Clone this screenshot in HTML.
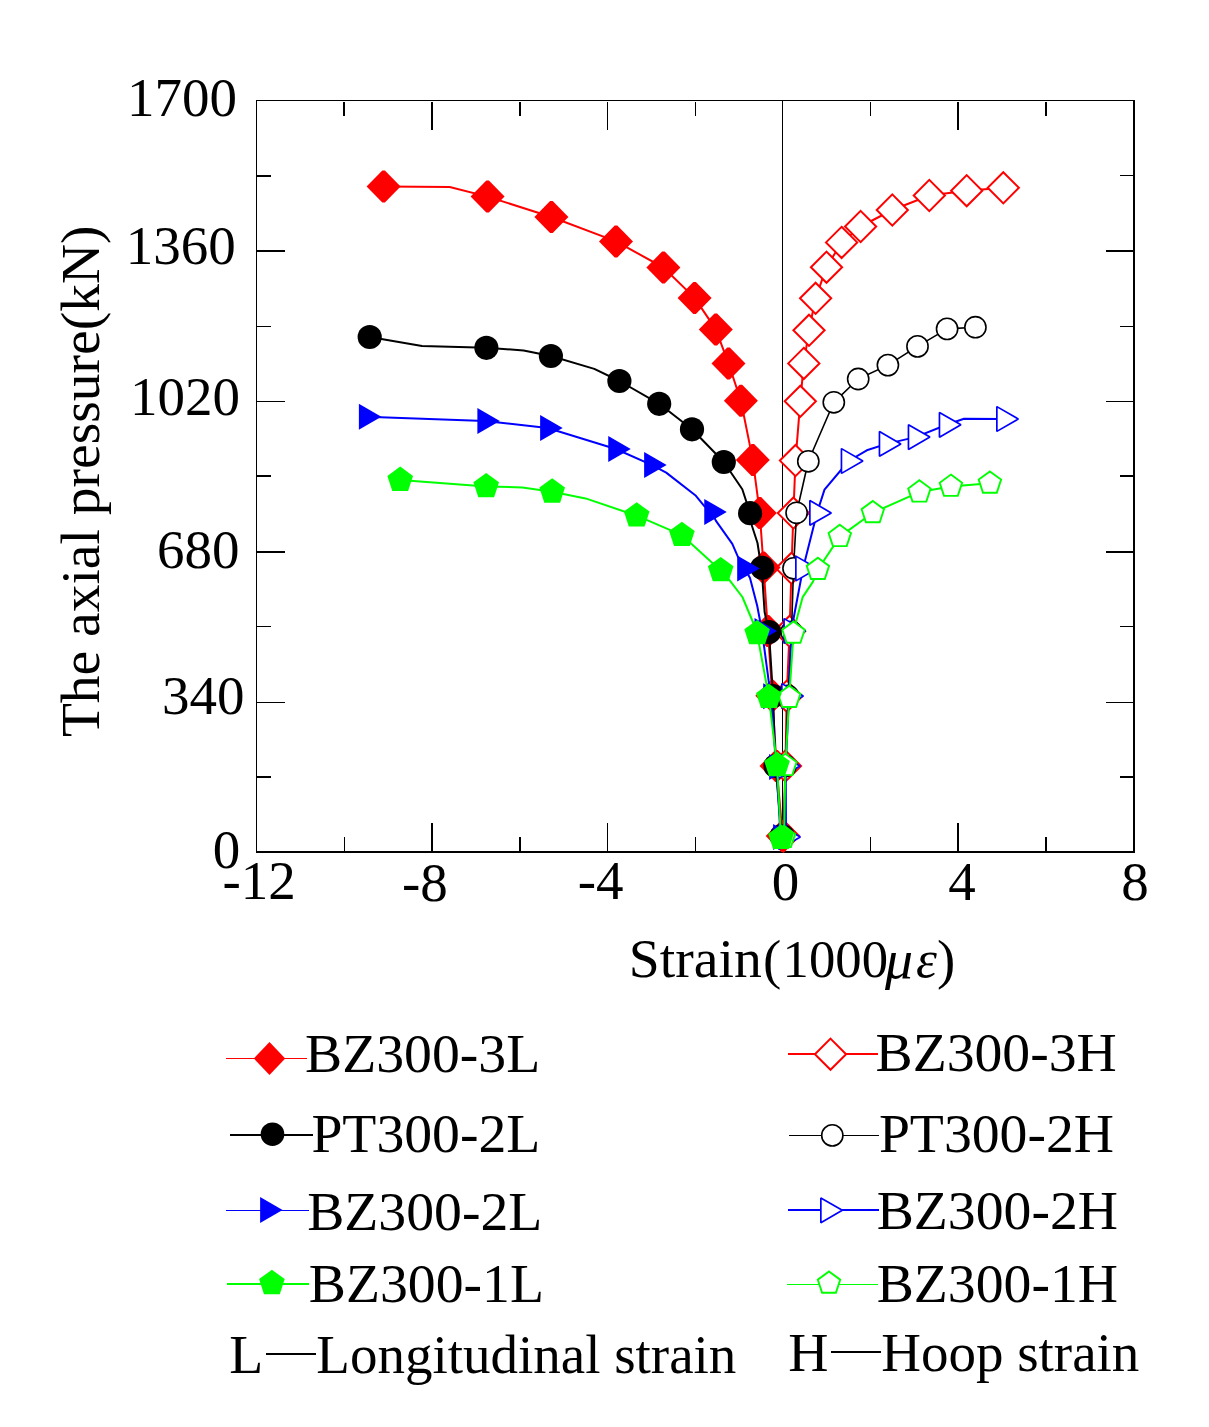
<!DOCTYPE html>
<html><head><meta charset="utf-8"><style>
html,body{margin:0;padding:0;background:#fff;overflow:hidden;}
svg{display:block;}
text{font-family:"Liberation Serif",serif;fill:#000;}
</style></head><body>
<svg width="1209" height="1427" viewBox="0 0 1209 1427">
<rect x="0" y="0" width="1209" height="1427" fill="#fff"/>
<g fill="#000" shape-rendering="crispEdges"><rect x="256" y="100" width="1" height="753"/><rect x="256" y="100" width="879" height="1"/><rect x="1133" y="100" width="2" height="753"/><rect x="256" y="851" width="879" height="2"/><rect x="344" y="837" width="1" height="14"/><rect x="343" y="102" width="2" height="14"/><rect x="431" y="823" width="2" height="28"/><rect x="431" y="102" width="2" height="28"/><rect x="519" y="837" width="2" height="14"/><rect x="519" y="102" width="2" height="14"/><rect x="607" y="823" width="1" height="28"/><rect x="607" y="102" width="1" height="28"/><rect x="695" y="837" width="1" height="14"/><rect x="695" y="102" width="1" height="14"/><rect x="870" y="837" width="1" height="14"/><rect x="870" y="102" width="1" height="14"/><rect x="957" y="823" width="2" height="28"/><rect x="957" y="102" width="2" height="28"/><rect x="1045" y="837" width="2" height="14"/><rect x="1045" y="102" width="2" height="14"/><rect x="257" y="175" width="14" height="2"/><rect x="1120" y="175" width="13" height="1"/><rect x="257" y="250" width="28" height="2"/><rect x="1106" y="250" width="27" height="2"/><rect x="257" y="326" width="14" height="1"/><rect x="1120" y="326" width="13" height="1"/><rect x="257" y="401" width="28" height="1"/><rect x="1106" y="401" width="27" height="1"/><rect x="257" y="475" width="14" height="2"/><rect x="1120" y="475" width="13" height="2"/><rect x="257" y="551" width="28" height="2"/><rect x="1106" y="551" width="27" height="2"/><rect x="257" y="626" width="14" height="1"/><rect x="1120" y="626" width="13" height="1"/><rect x="257" y="702" width="28" height="1"/><rect x="1106" y="702" width="27" height="1"/><rect x="257" y="776" width="14" height="2"/><rect x="1120" y="776" width="13" height="2"/><rect x="782" y="101" width="1" height="750"/></g>
<g><path d="M783.5,836.0 L785.4,766.0 L786.7,696.2 L789.6,631.3 L791.5,568.3 L793.4,513.1 L795.5,460.6 L800.3,401.3 L803.8,363.4 L809.0,330.3 L815.6,298.3 L826.5,267.2 L841.6,242.4 L860.6,226.5 L892.3,210.0 L929.3,195.5 L966.7,190.7 L1003.3,187.8" fill="none" stroke="#ff0000" stroke-width="2" stroke-linejoin="round"/><path d="M783.5,820.4 L799.1,836.0 L783.5,851.6 L767.9,836.0 Z" fill="#fff" stroke="#ff0000" stroke-width="2"/><path d="M785.4,750.4 L801.0,766.0 L785.4,781.6 L769.8,766.0 Z" fill="#fff" stroke="#ff0000" stroke-width="2"/><path d="M786.7,680.6 L802.3,696.2 L786.7,711.8 L771.1,696.2 Z" fill="#fff" stroke="#ff0000" stroke-width="2"/><path d="M789.6,615.7 L805.2,631.3 L789.6,646.9 L774.0,631.3 Z" fill="#fff" stroke="#ff0000" stroke-width="2"/><path d="M791.5,552.7 L807.1,568.3 L791.5,583.9 L775.9,568.3 Z" fill="#fff" stroke="#ff0000" stroke-width="2"/><path d="M793.4,497.5 L809.0,513.1 L793.4,528.7 L777.8,513.1 Z" fill="#fff" stroke="#ff0000" stroke-width="2"/><path d="M795.5,445.0 L811.1,460.6 L795.5,476.2 L779.9,460.6 Z" fill="#fff" stroke="#ff0000" stroke-width="2"/><path d="M800.3,385.7 L815.9,401.3 L800.3,416.9 L784.7,401.3 Z" fill="#fff" stroke="#ff0000" stroke-width="2"/><path d="M803.8,347.8 L819.4,363.4 L803.8,379.0 L788.2,363.4 Z" fill="#fff" stroke="#ff0000" stroke-width="2"/><path d="M809.0,314.7 L824.6,330.3 L809.0,345.9 L793.4,330.3 Z" fill="#fff" stroke="#ff0000" stroke-width="2"/><path d="M815.6,282.7 L831.2,298.3 L815.6,313.9 L800.0,298.3 Z" fill="#fff" stroke="#ff0000" stroke-width="2"/><path d="M826.5,251.6 L842.1,267.2 L826.5,282.8 L810.9,267.2 Z" fill="#fff" stroke="#ff0000" stroke-width="2"/><path d="M841.6,226.8 L857.2,242.4 L841.6,258.0 L826.0,242.4 Z" fill="#fff" stroke="#ff0000" stroke-width="2"/><path d="M860.6,210.9 L876.2,226.5 L860.6,242.1 L845.0,226.5 Z" fill="#fff" stroke="#ff0000" stroke-width="2"/><path d="M892.3,194.4 L907.9,210.0 L892.3,225.6 L876.7,210.0 Z" fill="#fff" stroke="#ff0000" stroke-width="2"/><path d="M929.3,179.9 L944.9,195.5 L929.3,211.1 L913.7,195.5 Z" fill="#fff" stroke="#ff0000" stroke-width="2"/><path d="M966.7,175.1 L982.3,190.7 L966.7,206.3 L951.1,190.7 Z" fill="#fff" stroke="#ff0000" stroke-width="2"/><path d="M1003.3,172.2 L1018.9,187.8 L1003.3,203.4 L987.7,187.8 Z" fill="#fff" stroke="#ff0000" stroke-width="2"/><path d="M782.7,836.0 L776.5,766.0 L772.3,695.8 L767.9,631.0 L763.6,567.5 L759.8,513.1 L752.8,459.9 L740.9,400.7 L728.5,363.4 L715.8,329.4 L694.6,297.9 L663.4,267.5 L616.0,241.4 L551.4,217.0 L487.6,196.6 L449.7,187.0 L383.6,186.5" fill="none" stroke="#ff0000" stroke-width="2" stroke-linejoin="round"/><path d="M781.40,820.00 L784.00,820.00 L799.70,836.00 L784.00,852.00 L781.40,852.00 L765.70,836.00 Z" fill="#ff0000"/><path d="M775.20,750.00 L777.80,750.00 L793.50,766.00 L777.80,782.00 L775.20,782.00 L759.50,766.00 Z" fill="#ff0000"/><path d="M771.00,679.80 L773.60,679.80 L789.30,695.80 L773.60,711.80 L771.00,711.80 L755.30,695.80 Z" fill="#ff0000"/><path d="M766.60,615.00 L769.20,615.00 L784.90,631.00 L769.20,647.00 L766.60,647.00 L750.90,631.00 Z" fill="#ff0000"/><path d="M762.30,551.50 L764.90,551.50 L780.60,567.50 L764.90,583.50 L762.30,583.50 L746.60,567.50 Z" fill="#ff0000"/><path d="M758.50,497.10 L761.10,497.10 L776.80,513.10 L761.10,529.10 L758.50,529.10 L742.80,513.10 Z" fill="#ff0000"/><path d="M751.50,443.90 L754.10,443.90 L769.80,459.90 L754.10,475.90 L751.50,475.90 L735.80,459.90 Z" fill="#ff0000"/><path d="M739.60,384.70 L742.20,384.70 L757.90,400.70 L742.20,416.70 L739.60,416.70 L723.90,400.70 Z" fill="#ff0000"/><path d="M727.20,347.40 L729.80,347.40 L745.50,363.40 L729.80,379.40 L727.20,379.40 L711.50,363.40 Z" fill="#ff0000"/><path d="M714.50,313.40 L717.10,313.40 L732.80,329.40 L717.10,345.40 L714.50,345.40 L698.80,329.40 Z" fill="#ff0000"/><path d="M693.30,281.90 L695.90,281.90 L711.60,297.90 L695.90,313.90 L693.30,313.90 L677.60,297.90 Z" fill="#ff0000"/><path d="M662.10,251.50 L664.70,251.50 L680.40,267.50 L664.70,283.50 L662.10,283.50 L646.40,267.50 Z" fill="#ff0000"/><path d="M614.70,225.40 L617.30,225.40 L633.00,241.40 L617.30,257.40 L614.70,257.40 L599.00,241.40 Z" fill="#ff0000"/><path d="M550.10,201.00 L552.70,201.00 L568.40,217.00 L552.70,233.00 L550.10,233.00 L534.40,217.00 Z" fill="#ff0000"/><path d="M486.30,180.60 L488.90,180.60 L504.60,196.60 L488.90,212.60 L486.30,212.60 L470.60,196.60 Z" fill="#ff0000"/><path d="M382.30,170.50 L384.90,170.50 L400.60,186.50 L384.90,202.50 L382.30,202.50 L366.60,186.50 Z" fill="#ff0000"/><path d="M783.5,836.0 L785.5,766.0 L788.0,696.0 L791.5,632.0 L793.5,568.3 L796.6,512.8 L808.3,461.3 L833.8,402.3 L858.2,379.0 L887.9,365.1 L917.5,346.4 L947.1,328.9 L975.4,327.2" fill="none" stroke="#000000" stroke-width="1.6" stroke-linejoin="round"/><circle cx="783.5" cy="836" r="10.6" fill="#fff" stroke="#000000" stroke-width="1.6"/><circle cx="785.5" cy="766" r="10.6" fill="#fff" stroke="#000000" stroke-width="1.6"/><circle cx="788" cy="696" r="10.6" fill="#fff" stroke="#000000" stroke-width="1.6"/><circle cx="791.5" cy="632" r="10.6" fill="#fff" stroke="#000000" stroke-width="1.6"/><circle cx="793.5" cy="568.3" r="10.6" fill="#fff" stroke="#000000" stroke-width="1.6"/><circle cx="796.6" cy="512.8" r="10.6" fill="#fff" stroke="#000000" stroke-width="1.6"/><circle cx="808.3" cy="461.3" r="10.6" fill="#fff" stroke="#000000" stroke-width="1.6"/><circle cx="833.8" cy="402.3" r="10.6" fill="#fff" stroke="#000000" stroke-width="1.6"/><circle cx="858.2" cy="379" r="10.6" fill="#fff" stroke="#000000" stroke-width="1.6"/><circle cx="887.9" cy="365.1" r="10.6" fill="#fff" stroke="#000000" stroke-width="1.6"/><circle cx="917.5" cy="346.4" r="10.6" fill="#fff" stroke="#000000" stroke-width="1.6"/><circle cx="947.1" cy="328.9" r="10.6" fill="#fff" stroke="#000000" stroke-width="1.6"/><circle cx="975.4" cy="327.2" r="10.6" fill="#fff" stroke="#000000" stroke-width="1.6"/><path d="M781.7,836.0 L775.5,766.0 L773.0,696.0 L769.0,632.0 L764.6,612.0 L762.8,585.0 L762.2,567.8 L759.5,556.0 L757.5,543.0 L752.0,526.0 L750.1,513.2 L742.3,489.2 L723.8,462.0 L692.0,429.3 L659.2,403.8 L619.4,381.0 L594.3,368.9 L550.9,356.0 L523.6,350.5 L486.4,347.8 L422.0,346.0 L369.7,337.0" fill="none" stroke="#000000" stroke-width="2" stroke-linejoin="round"/><circle cx="781.7" cy="836" r="12.1" fill="#000000"/><circle cx="775.5" cy="766" r="12.1" fill="#000000"/><circle cx="773" cy="696" r="12.1" fill="#000000"/><circle cx="769" cy="632" r="12.1" fill="#000000"/><circle cx="762.2" cy="567.8" r="12.1" fill="#000000"/><circle cx="750.1" cy="513.2" r="12.1" fill="#000000"/><circle cx="723.8" cy="462.0" r="12.1" fill="#000000"/><circle cx="692.0" cy="429.3" r="12.1" fill="#000000"/><circle cx="659.2" cy="403.8" r="12.1" fill="#000000"/><circle cx="619.4" cy="381" r="12.1" fill="#000000"/><circle cx="550.9" cy="356.0" r="12.1" fill="#000000"/><circle cx="486.4" cy="347.8" r="12.1" fill="#000000"/><circle cx="369.7" cy="337" r="12.1" fill="#000000"/><path d="M786.0,837.0 L785.7,766.0 L789.0,696.0 L791.2,631.0 L803.0,568.5 L817.0,512.9 L824.5,489.6 L848.6,461.0 L866.8,450.3 L886.6,443.9 L915.6,437.1 L946.6,424.8 L964.0,418.7 L1004.0,419.0" fill="none" stroke="#0000ff" stroke-width="2" stroke-linejoin="round"/><path d="M778.85,824.62 L800.30,837.00 L778.85,849.38 Z" fill="#fff" stroke="#0000ff" stroke-width="1.7" stroke-linejoin="bevel"/><path d="M778.55,753.62 L800.00,766.00 L778.55,778.38 Z" fill="#fff" stroke="#0000ff" stroke-width="1.7" stroke-linejoin="bevel"/><path d="M781.85,683.62 L803.30,696.00 L781.85,708.38 Z" fill="#fff" stroke="#0000ff" stroke-width="1.7" stroke-linejoin="bevel"/><path d="M784.05,618.62 L805.50,631.00 L784.05,643.38 Z" fill="#fff" stroke="#0000ff" stroke-width="1.7" stroke-linejoin="bevel"/><path d="M795.85,556.12 L817.30,568.50 L795.85,580.88 Z" fill="#fff" stroke="#0000ff" stroke-width="1.7" stroke-linejoin="bevel"/><path d="M809.85,500.52 L831.30,512.90 L809.85,525.28 Z" fill="#fff" stroke="#0000ff" stroke-width="1.7" stroke-linejoin="bevel"/><path d="M841.45,448.62 L862.90,461.00 L841.45,473.38 Z" fill="#fff" stroke="#0000ff" stroke-width="1.7" stroke-linejoin="bevel"/><path d="M879.45,431.52 L900.90,443.90 L879.45,456.28 Z" fill="#fff" stroke="#0000ff" stroke-width="1.7" stroke-linejoin="bevel"/><path d="M908.45,424.72 L929.90,437.10 L908.45,449.48 Z" fill="#fff" stroke="#0000ff" stroke-width="1.7" stroke-linejoin="bevel"/><path d="M939.45,412.42 L960.90,424.80 L939.45,437.18 Z" fill="#fff" stroke="#0000ff" stroke-width="1.7" stroke-linejoin="bevel"/><path d="M996.85,406.62 L1018.30,419.00 L996.85,431.38 Z" fill="#fff" stroke="#0000ff" stroke-width="1.7" stroke-linejoin="bevel"/><path d="M780.6,837.0 L776.6,767.0 L770.7,696.2 L762.0,631.0 L757.2,605.8 L750.0,578.0 L744.7,568.5 L737.3,555.4 L732.3,543.8 L715.8,520.6 L711.8,511.9 L703.9,505.7 L695.9,495.8 L666.2,472.6 L651.6,464.9 L615.8,449.0 L547.6,428.0 L484.9,420.9 L366.4,416.8" fill="none" stroke="#0000ff" stroke-width="2" stroke-linejoin="round"/><path d="M773.10,824.01 L795.60,837.00 L773.10,849.99 Z" fill="#0000ff"/><path d="M769.10,754.01 L791.60,767.00 L769.10,779.99 Z" fill="#0000ff"/><path d="M763.20,683.21 L785.70,696.20 L763.20,709.19 Z" fill="#0000ff"/><path d="M754.50,618.01 L777.00,631.00 L754.50,643.99 Z" fill="#0000ff"/><path d="M737.20,555.51 L759.70,568.50 L737.20,581.49 Z" fill="#0000ff"/><path d="M704.25,498.91 L726.75,511.90 L704.25,524.89 Z" fill="#0000ff"/><path d="M644.15,451.91 L666.65,464.90 L644.15,477.89 Z" fill="#0000ff"/><path d="M608.25,436.01 L630.75,449.00 L608.25,461.99 Z" fill="#0000ff"/><path d="M540.15,415.01 L562.65,428.00 L540.15,440.99 Z" fill="#0000ff"/><path d="M477.35,407.91 L499.85,420.90 L477.35,433.89 Z" fill="#0000ff"/><path d="M358.85,403.81 L381.35,416.80 L358.85,429.79 Z" fill="#0000ff"/><path d="M784.0,837.6 L785.4,765.6 L789.2,697.5 L793.5,633.3 L796.5,619.9 L802.7,597.1 L813.0,581.6 L817.9,569.5 L839.8,536.6 L872.8,512.8 L919.4,492.1 L950.9,486.4 L989.9,483.2" fill="none" stroke="#00ff00" stroke-width="2" stroke-linejoin="round"/><path d="M784.0,825.8 L795.2,834.0 L790.9,847.1 L777.1,847.1 L772.8,834.0 Z" fill="#fff" stroke="#00ff00" stroke-width="1.9"/><path d="M785.4,753.8 L796.6,762.0 L792.3,775.1 L778.5,775.1 L774.2,762.0 Z" fill="#fff" stroke="#00ff00" stroke-width="1.9"/><path d="M789.2,685.7 L800.4,693.9 L796.1,707.0 L782.3,707.0 L778.0,693.9 Z" fill="#fff" stroke="#00ff00" stroke-width="1.9"/><path d="M793.5,621.5 L804.7,629.7 L800.4,642.8 L786.6,642.8 L782.3,629.7 Z" fill="#fff" stroke="#00ff00" stroke-width="1.9"/><path d="M817.9,557.7 L829.1,565.9 L824.8,579.0 L811.0,579.0 L806.7,565.9 Z" fill="#fff" stroke="#00ff00" stroke-width="1.9"/><path d="M839.8,524.8 L851.0,533.0 L846.7,546.1 L832.9,546.1 L828.6,533.0 Z" fill="#fff" stroke="#00ff00" stroke-width="1.9"/><path d="M872.8,501.0 L884.0,509.2 L879.7,522.3 L865.9,522.3 L861.6,509.2 Z" fill="#fff" stroke="#00ff00" stroke-width="1.9"/><path d="M919.4,480.3 L930.6,488.5 L926.3,501.6 L912.5,501.6 L908.2,488.5 Z" fill="#fff" stroke="#00ff00" stroke-width="1.9"/><path d="M950.9,474.6 L962.1,482.8 L957.8,495.9 L944.0,495.9 L939.7,482.8 Z" fill="#fff" stroke="#00ff00" stroke-width="1.9"/><path d="M989.9,471.4 L1001.1,479.6 L996.8,492.7 L983.0,492.7 L978.7,479.6 Z" fill="#fff" stroke="#00ff00" stroke-width="1.9"/><path d="M781.0,838.0 L777.0,765.3 L768.9,697.2 L757.1,633.4 L752.9,622.0 L742.4,597.0 L729.1,579.7 L720.7,570.4 L681.9,535.2 L636.7,515.7 L585.6,498.4 L552.2,491.8 L522.4,487.4 L486.2,486.4 L400.2,480.1" fill="none" stroke="#00ff00" stroke-width="2" stroke-linejoin="round"/><path d="M781.0,824.5 L793.8,833.8 L788.9,848.9 L773.1,848.9 L768.2,833.8 Z" fill="#00ff00"/><path d="M777.0,751.8 L789.8,761.1 L784.9,776.2 L769.1,776.2 L764.2,761.1 Z" fill="#00ff00"/><path d="M768.9,683.7 L781.7,693.0 L776.8,708.1 L761.0,708.1 L756.1,693.0 Z" fill="#00ff00"/><path d="M757.1,619.9 L769.9,629.2 L765.0,644.3 L749.2,644.3 L744.3,629.2 Z" fill="#00ff00"/><path d="M720.7,556.9 L733.5,566.2 L728.6,581.3 L712.8,581.3 L707.9,566.2 Z" fill="#00ff00"/><path d="M681.9,521.7 L694.7,531.0 L689.8,546.1 L674.0,546.1 L669.1,531.0 Z" fill="#00ff00"/><path d="M636.7,502.2 L649.5,511.5 L644.6,526.6 L628.8,526.6 L623.9,511.5 Z" fill="#00ff00"/><path d="M552.2,478.3 L565.0,487.6 L560.1,502.7 L544.3,502.7 L539.4,487.6 Z" fill="#00ff00"/><path d="M486.2,472.9 L499.0,482.2 L494.1,497.3 L478.3,497.3 L473.4,482.2 Z" fill="#00ff00"/><path d="M400.2,466.6 L413.0,475.9 L408.1,491.0 L392.3,491.0 L387.4,475.9 Z" fill="#00ff00"/></g>
<g><rect x="226" y="1058.0" width="81" height="1" fill="#ff0000"/><path d="M269.49,1042.00 L269.51,1042.00 L285.20,1058.50 L269.51,1075.00 L269.49,1075.00 L253.80,1058.50 Z" fill="#ff0000"/><rect x="788" y="1053.0" width="90" height="2" fill="#ff0000"/><path d="M830.5,1038.6 L846.1,1054.2 L830.5,1069.8 L814.9,1054.2 Z" fill="#fff" stroke="#ff0000" stroke-width="2"/><rect x="230" y="1134.0" width="83" height="2" fill="#000000"/><circle cx="272.5" cy="1134.2" r="11.8" fill="#000000"/><rect x="789" y="1135.0" width="90" height="1" fill="#000000"/><circle cx="832.3" cy="1135.4" r="10.6" fill="#fff" stroke="#000000" stroke-width="1.6"/><rect x="226" y="1210.0" width="83" height="1" fill="#0000ff"/><path d="M260.10,1197.01 L282.60,1210.00 L260.10,1222.99 Z" fill="#0000ff"/><rect x="788" y="1209.0" width="91" height="2" fill="#0000ff"/><path d="M820.85,1197.92 L842.30,1210.30 L820.85,1222.68 Z" fill="#fff" stroke="#0000ff" stroke-width="1.7" stroke-linejoin="bevel"/><rect x="227" y="1283.0" width="82" height="2" fill="#00ff00"/><path d="M271.9,1269.8 L284.7,1279.1 L279.8,1294.2 L264.0,1294.2 L259.1,1279.1 Z" fill="#00ff00"/><rect x="787" y="1284.0" width="91" height="1" fill="#00ff00"/><path d="M829.0,1271.5 L840.2,1279.7 L835.9,1292.8 L822.1,1292.8 L817.8,1279.7 Z" fill="#fff" stroke="#00ff00" stroke-width="1.9"/><rect x="266" y="1353" width="50" height="2" fill="#000"/><rect x="831" y="1351" width="50" height="2" fill="#000"/></g>
<g><text x="127.07" y="116.24" font-size="55" >1700</text><text x="125.68" y="264.04" font-size="55" >1360</text><text x="129.97" y="415.04" font-size="55" >1020</text><text x="157.05" y="567.94" font-size="55" >680</text><text x="162.03" y="714.24" font-size="55" >340</text><text x="212.75" y="868.04" font-size="55" >0</text><text x="222.50" y="899.14" font-size="55" >-12</text><text x="401.93" y="901.44" font-size="55" >-8</text><text x="577.65" y="898.54" font-size="55" >-4</text><text x="771.75" y="900.14" font-size="55" >0</text><text x="948.20" y="899.69" font-size="55" >4</text><text x="1121.35" y="899.99" font-size="55" >8</text><text x="628.80" y="977.30" font-size="55.65" >Strain</text><text x="763.00" y="978.00" font-size="54.9" >(</text><text x="782.60" y="976.80" font-size="52.7" >1000</text><text x="885.00" y="977.50" font-size="55" font-style="italic" textLength="28" lengthAdjust="spacingAndGlyphs">μ</text><text x="916.00" y="977.20" font-size="53" font-style="italic">ε</text><text x="937.00" y="978.00" font-size="54.9" >)</text><text transform="translate(99.2,737.1) rotate(-90)" x="0" y="0" font-size="55.5">The axial pressure(kN)</text><text x="305.10" y="1071.70" font-size="55.7">BZ300-3L</text><text x="875.50" y="1071.30" font-size="55.7">BZ300-3H</text><text x="311.40" y="1151.60" font-size="55.7">PT300-2L</text><text x="878.90" y="1151.50" font-size="55.7">PT300-2H</text><text x="307.20" y="1229.60" font-size="55.7">BZ300-2L</text><text x="876.70" y="1229.10" font-size="55.7">BZ300-2H</text><text x="308.80" y="1301.80" font-size="55.7">BZ300-1L</text><text x="876.70" y="1301.70" font-size="55.7">BZ300-1H</text><text x="229.30" y="1373.10" font-size="55.7" >L</text><text x="316.30" y="1373.10" font-size="55.0" >Longitudinal strain</text><text x="788.20" y="1371.10" font-size="55.7" >H</text><text x="881.20" y="1371.10" font-size="55.0" >Hoop strain</text></g>
</svg></body></html>
